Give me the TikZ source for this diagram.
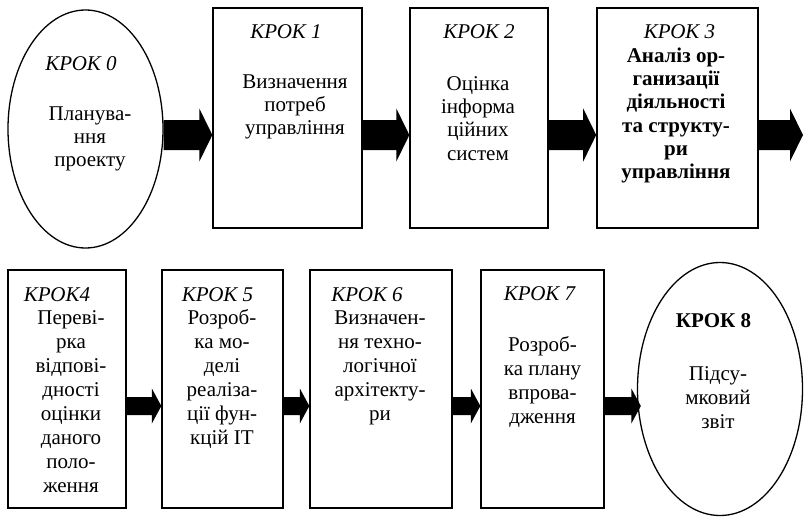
\documentclass[tikz,border=0pt]{standalone}
\usepackage{fontspec}
\setmainfont{Liberation Serif}
\usetikzlibrary{calc,shapes.geometric}
\newcommand\fl{\rule{0pt}{17pt}}
\tikzset{
  shapebox/.style={draw, line width=1.3pt, inner sep=0pt, rectangle},
  shapeell/.style={draw, line width=1.3pt, inner sep=0pt, ellipse},
  steplabel/.style={inner sep=0pt, anchor=base, font=\fontsize{21}{23}\selectfont\itshape},
  bodytop/.style={inner sep=0pt, anchor=north, align=center, font=\fontsize{21}{23.3}\selectfont},
  bodybot/.style={inner sep=0pt, anchor=north, align=center, font=\fontsize{21}{24}\selectfont},
  fat/.style args={#1/#2/#3/#4}{to path={let \p1=(\tikztostart), \p2=(\tikztotarget) in
    (\x1,#1+#2) -- (\x2-#4,#1+#2) -- (\x2-#4,#1+#3) -- (\x2,#1) -- (\x2-#4,#1-#3) -- (\x2-#4,#1-#2) -- (\x1,#1-#2) -- cycle}},
  toparrow/.style={fat={-135pt}/{15pt}/{26.5pt}/{13pt}},
  botarrow/.style={fat={-406pt}/{9pt}/{17.5pt}/{9.5pt}}
}
\begin{document}
\begin{tikzpicture}[x=1pt,y=-1pt]
\useasboundingbox (0,0) rectangle (804,517);
% top row shapes
\node[shapeell, minimum width=155pt, minimum height=238pt] (e0) at (85.5,129) {};
\node[shapebox, minimum width=149pt, minimum height=220pt] (b1) at (287.5,118) {};
\node[shapebox, minimum width=138pt, minimum height=220pt] (b2) at (479,118) {};
\node[shapebox, line width=1.6pt, minimum width=161pt, minimum height=220pt] (b3) at (677.5,118) {};
\coordinate (out) at (803,135);
% bottom row shapes
\node[shapebox, minimum width=118pt, minimum height=238pt] (b4) at (67,389) {};
\node[shapebox, minimum width=121pt, minimum height=238pt] (b5) at (222.5,389) {};
\node[shapebox, minimum width=142pt, minimum height=238pt] (b6) at (381,389) {};
\node[shapebox, minimum width=123pt, minimum height=238pt] (b7) at (542.5,389) {};
\node[shapeell, minimum width=165pt, minimum height=253pt] (e8) at (720,389) {};
\coordinate (t8) at ($(e8.west)+(4,0)$);
% labels
\node[steplabel] (l0) at (81,70) {КРОК 0};
\node[bodytop] (x0) at (90,103) {\fl Планува-\\ння\\проекту};
\node[steplabel] (l1) at (286,38) {КРОК 1};
\node[bodytop] (x1) at (295,71) {\fl Визначення\\потреб\\управління};
\node[steplabel] (l2) at (479,38) {КРОК 2};
\node[bodytop] (x2) at (478,73) {\fl Оцінка\\інформа\\ційних\\систем};
\node[steplabel] (l3) at (679.5,38) {КРОК 3};
\node[bodytop, font=\fontsize{21}{23.3}\selectfont\bfseries] (x3) at (676,45) {\fl Аналіз ор-\\ганизації\\діяльності\\та структу-\\ри\\управління};
\node[steplabel] (l4) at (57,301) {КРОК4};
\node[bodybot] (x4) at (71,307) {\fl Переві-\\рка\\відпові-\\дності\\оцінки\\даного\\поло-\\ження};
\node[steplabel] (l5) at (217.5,301) {КРОК 5};
\node[bodybot] (x5) at (222,307) {\fl Розроб-\\ка мо-\\делі\\реаліза-\\ції фун-\\кцій IT};
\node[steplabel] (l6) at (367,301) {КРОК 6};
\node[bodybot] (x6) at (380,307) {\fl Визначен-\\ня техно-\\логічної\\архітекту-\\ри};
\node[steplabel] (l7) at (539.5,300) {КРОК 7};
\node[bodybot] (x7) at (542.5,334) {\fl Розроб-\\ка плану\\впрова-\\дження};
\node[steplabel, font=\fontsize{21}{23}\selectfont\bfseries] (l8) at (713.5,327) {КРОК 8};
\node[bodybot] (x8) at (718,363) {\fl Підсу-\\мковий\\звіт};
% arrows
\fill (e0.east) to[toparrow] (b1.west);
\fill (b1.east) to[toparrow] (b2.west);
\fill (b2.east) to[toparrow] (b3.west);
\fill (b3.east) to[toparrow] (out);
\fill (b4.east) to[botarrow] (b5.west);
\fill (b5.east) to[botarrow] (b6.west);
\fill (b6.east) to[botarrow] (b7.west);
\fill (b7.east) to[botarrow] (t8);
\end{tikzpicture}
\end{document}
